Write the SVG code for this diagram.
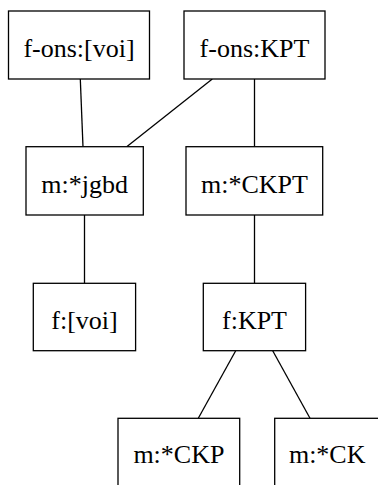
<svg xmlns="http://www.w3.org/2000/svg" width="378" height="485" viewBox="0 0 378 485">
<style>
rect{fill:#fff;stroke:#000;stroke-width:1.3}
text{font-family:"Liberation Serif","Times New Roman",serif;font-size:26px;text-anchor:middle;fill:#000}
#edges line{stroke:#000;stroke-width:1.3}
</style>
<rect x="0" y="0" width="378" height="485" style="stroke:none"/>
<g id="edges">
<line x1="80.3" y1="79" x2="83" y2="146.7"/>
<line x1="212.3" y1="79" x2="126.7" y2="146.7"/>
<line x1="254.5" y1="79" x2="254.5" y2="146.7"/>
<line x1="84.5" y1="215" x2="84.5" y2="283.3"/>
<line x1="254.5" y1="215" x2="254.5" y2="283.3"/>
<line x1="235.7" y1="350.7" x2="198.3" y2="418.3"/>
<line x1="272.7" y1="350.7" x2="310" y2="418.3"/>
</g>
<g id="n1"><rect x="8.5" y="11" width="141" height="68"/><text x="79" y="56.5">f-ons:[voi]</text></g>
<g id="n2"><rect x="184" y="11" width="141" height="68"/><text x="254.5" y="56.5">f-ons:KPT</text></g>
<g id="n3"><rect x="26" y="146.7" width="117.3" height="68.3"/><text x="84.6" y="192.8">m:*jgbd</text></g>
<g id="n4"><rect x="186" y="146.7" width="136.7" height="68.3"/><text x="254.4" y="192.8">m:*CKPT</text></g>
<g id="n5"><rect x="33.3" y="283.3" width="102.3" height="67.4"/><text x="84.5" y="328.5">f:[voi]</text></g>
<g id="n6"><rect x="203.3" y="283.3" width="102.3" height="67.4"/><text x="254.5" y="328.5">f:KPT</text></g>
<g id="n7"><rect x="118" y="418.3" width="121.7" height="68"/><text x="178.9" y="463">m:*CKP</text></g>
<g id="n8"><rect x="274.7" y="418.3" width="105" height="68"/><text x="327.2" y="463">m:*CK</text></g>
</svg>
